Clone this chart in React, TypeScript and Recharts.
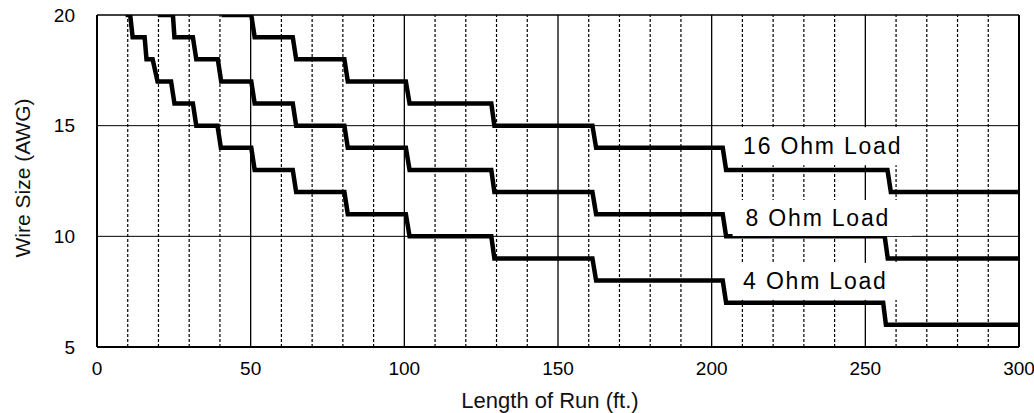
import React from 'react'
import { ComposedChart, Line, Scatter, XAxis, YAxis, ReferenceLine } from 'recharts'

// Length of run (ft.) at each corner of the stepped curves, and the wire gauge there
const ohm4Runs = [9.3, 10.8, 11.6, 15.5, 16.1, 18.1, 19.7, 24.1, 25.2, 31.2, 32.3, 39.2, 40.3, 50.2, 51.3, 63.7, 64.8, 80.5, 81.6, 100.5, 101.7, 128.3, 129.3, 161.2, 162.4, 203.6, 204.7, 255.8, 256.7, 300]
const ohm4Gauges = [20, 20, 19, 19, 18, 18, 17, 17, 16, 16, 15, 15, 14, 14, 13, 13, 12, 12, 11, 11, 10, 10, 9, 9, 8, 8, 7, 7, 6, 6]

const ohm8Runs = [19.8, 24.7, 25.2, 31.2, 32.3, 39.3, 40.4, 50.2, 51.3, 63.7, 64.8, 80.5, 81.6, 100.5, 101.7, 128.3, 129.3, 161.2, 162.4, 203.6, 204.7, 256.3, 257.3, 300]
const ohm8Gauges = [20, 20, 19, 19, 18, 18, 17, 17, 16, 16, 15, 15, 14, 14, 13, 13, 12, 12, 11, 11, 10, 10, 9, 9]

const ohm16Runs = [40.5, 50.2, 51.3, 63.7, 64.8, 80.5, 81.6, 100.5, 101.7, 128.3, 129.3, 161.2, 162.4, 203.6, 204.7, 257.2, 258.3, 300]
const ohm16Gauges = [20, 20, 19, 19, 18, 18, 17, 17, 16, 16, 15, 15, 14, 14, 13, 13, 12, 12]

const xTicks = [0, 50, 100, 150, 200, 250, 300]
const yTicks = [5, 10, 15, 20]
const minorX = [10, 20, 30, 40, 60, 70, 80, 90, 110, 120, 130, 140, 160, 170, 180, 190, 210, 220, 230, 240, 260, 270, 280, 290]
const majorX = [50, 100, 150, 200, 250]
const majorY = [10, 15]

// curve labels, anchored at the top-left corner of their white box
const labelTexts = ['16 Ohm Load', '8 Ohm Load', '4 Ohm Load']
const labelRuns = [206, 206.8, 206]
const labelGauges = [14.93, 11.64, 8.8]
const labelBoxW = [181, 179, 181]
const labelBoxH = [38, 36, 37]

const toPoints = (runs: number[], gauges: number[]) => runs.map((x, i) => ({ x, g: gauges[i] }))

const FONT = '"Liberation Sans", Arial, sans-serif'

const XTitle = ({ viewBox }: any) => (
  <text x={viewBox.x + viewBox.width / 2 - 8} y={viewBox.y + 61} textAnchor="middle" fontSize={22} fill="#111" fontFamily={FONT}>
    Length of Run (ft.)
  </text>
)

const YTitle = ({ viewBox }: any) => {
  const x = viewBox.x + 22
  const y = viewBox.y + viewBox.height / 2 - 3
  return (
    <text x={x} y={y} transform={`rotate(-90, ${x}, ${y})`} textAnchor="middle" dominantBaseline="central" fontSize={21} fill="#111" fontFamily={FONT}>
      Wire Size (AWG)
    </text>
  )
}

// white box with the curve name; drawn as a scatter shape so it sits over the curves
const LabelBox = ({ cx, cy, payload }: any) => (
  <g>
    <rect x={cx} y={cy} width={payload.w} height={payload.h} fill="#fff" />
    <text x={cx + 13} y={cy + payload.h / 2} dominantBaseline="central" fontSize={23} fill="#000" fontFamily={FONT} letterSpacing={1.8}>
      {payload.text}
    </text>
  </g>
)

export default function App() {
  const series = [
    { name: '4 Ohm Load', data: toPoints(ohm4Runs, ohm4Gauges) },
    { name: '8 Ohm Load', data: toPoints(ohm8Runs, ohm8Gauges) },
    { name: '16 Ohm Load', data: toPoints(ohm16Runs, ohm16Gauges) },
  ]
  const labels = labelTexts.map((text, i) => ({ x: labelRuns[i], g: labelGauges[i], text, w: labelBoxW[i], h: labelBoxH[i] }))

  return (
    <div style={{ width: 1034, height: 413, fontFamily: FONT }}>
      <style>{'body{margin:0}'}</style>
      <ComposedChart width={1034} height={413} margin={{ top: 15, right: 15, left: 0, bottom: 0 }}>
        <XAxis
          type="number"
          dataKey="x"
          domain={[0, 300]}
          ticks={xTicks}
          interval={0}
          allowDataOverflow
          tick={{ fontSize: 19, fill: '#000', fontFamily: FONT }}
          tickLine={false}
          tickSize={0}
          tickMargin={15}
          axisLine={{ stroke: '#000', strokeWidth: 2 }}
          height={66}
          label={<XTitle />}
        />
        <YAxis
          type="number"
          dataKey="g"
          domain={[5, 20]}
          ticks={yTicks}
          interval={0}
          allowDataOverflow
          tick={{ fontSize: 19, fill: '#000', fontFamily: FONT }}
          tickLine={false}
          tickSize={0}
          tickMargin={22}
          axisLine={{ stroke: '#000', strokeWidth: 2 }}
          width={97}
          label={<YTitle />}
        />

        {minorX.map((v) => (
          <ReferenceLine key={'m' + v} x={v} stroke="#000" strokeWidth={1.2} strokeDasharray="3 2" />
        ))}
        {majorX.map((v) => (
          <ReferenceLine key={'M' + v} x={v} stroke="#000" strokeWidth={1.3} />
        ))}
        {majorY.map((v) => (
          <ReferenceLine key={'h' + v} y={v} stroke="#000" strokeWidth={1} />
        ))}
        <ReferenceLine y={20} stroke="#000" strokeWidth={1.3} />
        <ReferenceLine x={300} stroke="#000" strokeWidth={2} />

        {series.map((s) => (
          <Line
            key={s.name}
            data={s.data}
            dataKey="g"
            name={s.name}
            type="linear"
            stroke="#000"
            strokeWidth={4.5}
            dot={false}
            activeDot={false}
            isAnimationActive={false}
          />
        ))}

        <Scatter data={labels} dataKey="g" shape={<LabelBox />} isAnimationActive={false} />
      </ComposedChart>
    </div>
  )
}
